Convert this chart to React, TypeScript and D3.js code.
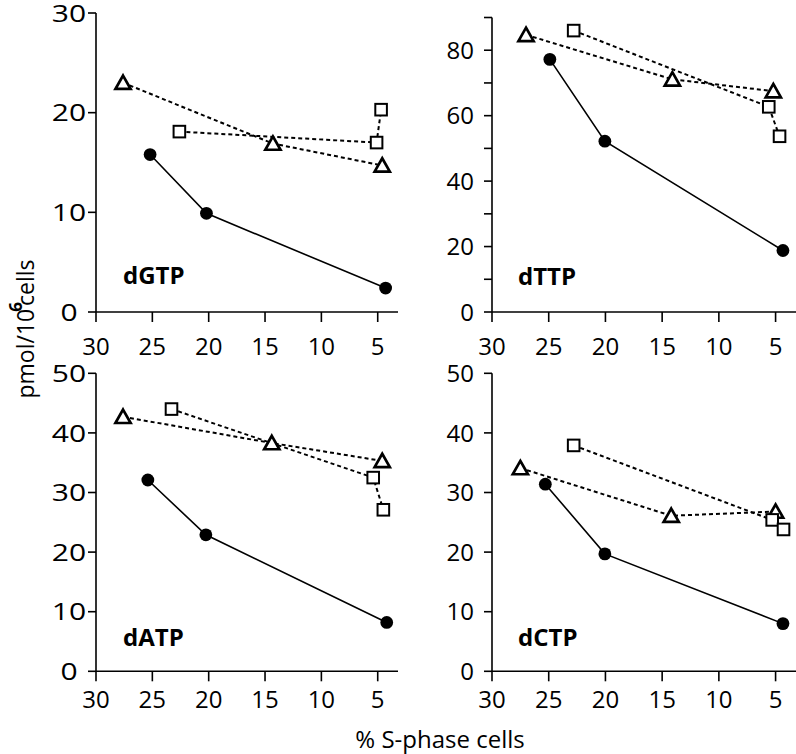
import React from "react";
import * as d3 from "d3";

// ---------- data ----------
const panelNames = ["dGTP", "dTTP", "dATP", "dCTP"];
const xTickValues = [30, 25, 20, 15, 10, 5];

const yTickValues = [
  [0, 10, 20, 30],
  [0, 10, 20, 30, 40, 50, 60, 70, 80, 90],
  [0, 10, 20, 30, 40, 50],
  [0, 10, 20, 30, 40, 50],
];
const yTickLabels = [
  [0, 10, 20, 30],
  [0, 20, 40, 60, 80],
  [0, 10, 20, 30, 40, 50],
  [0, 10, 20, 30, 40, 50],
];
const yMaxValues = [30, 90, 50, 50];

// filled circles (solid line)
const circleX = [
  [25.2, 20.2, 4.3],
  [24.9, 20.05, 4.35],
  [25.4, 20.25, 4.2],
  [25.3, 20.05, 4.35],
];
const circleY = [
  [15.8, 9.9, 2.4],
  [77.2, 52.2, 18.8],
  [32.1, 22.9, 8.2],
  [31.4, 19.7, 8.0],
];

// open triangles (dashed line)
const triangleX = [
  [27.6, 14.3, 4.6],
  [27.0, 14.1, 5.2],
  [27.6, 14.4, 4.6],
  [27.5, 14.2, 5.0],
];
const triangleY = [
  [23.0, 16.9, 14.7],
  [84.7, 71.1, 67.5],
  [42.7, 38.3, 35.3],
  [34.1, 26.1, 26.8],
];

// open squares (dashed line)
const squareX = [
  [22.6, 5.1, 4.7],
  [22.8, 5.6, 4.65],
  [23.3, 5.4, 4.5],
  [22.8, 5.3, 4.3],
];
const squareY = [
  [18.1, 17.0, 20.3],
  [86.0, 62.7, 53.7],
  [44.0, 32.5, 27.1],
  [37.9, 25.4, 23.8],
];

// ---------- layout ----------
const layouts = [
  { left: 96, right: 398, bottom: 312, top: 13, xLabelDy: 43, labelX: 123, labelY: 284, stretch: 1.25, col: 0 },
  { left: 492, right: 796, bottom: 312, top: 17.5, xLabelDy: 43, labelX: 518, labelY: 285, stretch: 1, col: 1 },
  { left: 96, right: 398, bottom: 671.3, top: 373.3, xLabelDy: 37, labelX: 123, labelY: 646, stretch: 1.25, col: 0 },
  { left: 492, right: 796, bottom: 671.3, top: 373.3, xLabelDy: 37, labelX: 518, labelY: 646, stretch: 1, col: 1 },
];

const FONT = "'Open Sans', Lato, sans-serif";
const FS = 24;

function Panel({ i }: { i: number }) {
  const L = layouts[i];
  const x = d3.scaleLinear().domain([30, 3.2]).range([L.left, L.right]);
  const y = d3.scaleLinear().domain([0, yMaxValues[i]]).range([L.bottom, L.top]);
  const line = d3
    .line<[number, number]>()
    .x((d) => x(d[0]))
    .y((d) => y(d[1]));

  const circ: [number, number][] = circleX[i].map((v, k) => [v, circleY[i][k]]);
  const tri: [number, number][] = triangleX[i].map((v, k) => [v, triangleY[i][k]]);
  const sq: [number, number][] = squareX[i].map((v, k) => [v, squareY[i][k]]);

  const triPath = "M0,-7.2 L7.6,6.2 L-7.6,6.2 Z";

  return (
    <g>
      {/* axes */}
      <line x1={L.left} x2={L.left} y1={y(0)} y2={y(yMaxValues[i])} stroke="#000" strokeWidth={1.6} />
      <line x1={L.left} x2={L.right} y1={L.bottom} y2={L.bottom} stroke="#000" strokeWidth={1.6} />
      {yTickValues[i].map((t) => (
        <line key={"yt" + t} x1={L.left - 8} x2={L.left} y1={y(t)} y2={y(t)} stroke="#000" strokeWidth={1.6} />
      ))}
      {yTickLabels[i].map((t) =>
        L.col === 0 ? (
          <text
            key={"yl" + t}
            transform={`translate(${L.left - 27},${y(t)}) scale(${L.stretch},1)`}
            dy="0.36em"
            textAnchor="middle"
            fontSize={FS}
            fontFamily={FONT}
          >
            {t}
          </text>
        ) : (
          <text
            key={"yl" + t}
            x={L.left - 18}
            y={y(t)}
            dy="0.36em"
            textAnchor="end"
            fontSize={FS}
            fontFamily={FONT}
          >
            {t}
          </text>
        )
      )}
      {xTickValues.map((t) => (
        <g key={"xt" + t}>
          <line x1={x(t)} x2={x(t)} y1={L.bottom} y2={L.bottom + 10} stroke="#000" strokeWidth={1.6} />
          <text x={x(t)} y={L.bottom + L.xLabelDy} textAnchor="middle" fontSize={FS} fontFamily={FONT}>
            {t}
          </text>
        </g>
      ))}

      {/* series lines */}
      <path d={line(tri) || ""} fill="none" stroke="#000" strokeWidth={2} strokeDasharray="4,3" />
      <path d={line(sq) || ""} fill="none" stroke="#000" strokeWidth={2} strokeDasharray="4,3" />
      <path d={line(circ) || ""} fill="none" stroke="#000" strokeWidth={1.6} />

      {/* markers */}
      {tri.map((d, k) => (
        <path
          key={"tr" + k}
          d={triPath}
          transform={`translate(${x(d[0])},${y(d[1])})`}
          fill="#fff"
          stroke="#000"
          strokeWidth={2.7}
        />
      ))}
      {sq.map((d, k) => (
        <rect
          key={"sq" + k}
          x={x(d[0]) - 5.8}
          y={y(d[1]) - 5.8}
          width={11.6}
          height={11.6}
          fill="#fff"
          stroke="#000"
          strokeWidth={2}
        />
      ))}
      {circ.map((d, k) => (
        <circle key={"c" + k} cx={x(d[0])} cy={y(d[1])} r={6.4} fill="#000" />
      ))}

      <text x={L.labelX} y={L.labelY} fontSize={24} fontWeight="bold" fontFamily={FONT}>
        {panelNames[i]}
      </text>
    </g>
  );
}

export default function App() {
  return (
    <svg
      width={796}
      height={754}
      style={{ position: "absolute", left: 0, top: 0, background: "#fff" }}
    >
      {panelNames.map((_, i) => (
        <Panel key={i} i={i} />
      ))}
      <text
        transform="translate(34,329) rotate(-90)"
        textAnchor="middle"
        fontSize={23}
        fontFamily={FONT}
      >
        pmol/10
        <tspan fontWeight="bold" fontSize={17} dy={-12} dx={-3}>
          6
        </tspan>
        <tspan dy={12} dx={-4}>cells</tspan>
      </text>
      <text x={440} y={748} textAnchor="middle" fontSize={24} fontFamily={FONT}>
        % S-phase cells
      </text>
    </svg>
  );
}
